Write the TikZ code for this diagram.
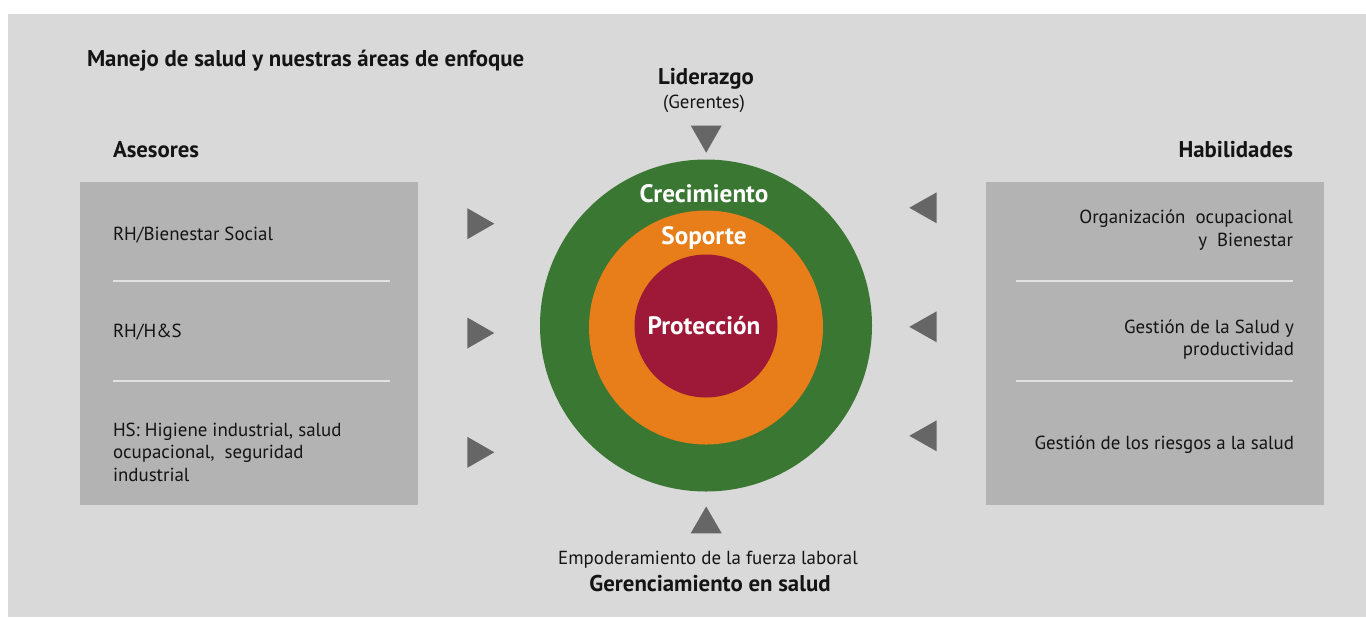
\documentclass[tikz,border=0pt]{standalone}
\usepackage{fontspec}
\setmainfont{PT Sans}
\definecolor{bgc}{RGB}{217,217,217}
\definecolor{boxc}{RGB}{179,179,179}
\definecolor{sepc}{RGB}{226,226,226}
\definecolor{tric}{RGB}{102,102,102}
\definecolor{grn}{RGB}{58,119,51}
\definecolor{org}{RGB}{231,126,25}
\definecolor{rd}{RGB}{158,24,56}
\definecolor{txt}{RGB}{20,20,20}
\begin{document}
\begin{tikzpicture}[x=0.5pt,y=-0.5pt,
  every node/.style={inner sep=0pt, outer sep=0pt, text=txt},
  reg/.style={font=\fontsize{9.45}{11}\selectfont},
  hdr/.style={font=\fontsize{11.4}{13}\selectfont\bfseries},
  ring/.style={font=\fontsize{12.6}{14}\selectfont\bfseries, text=white},
  panel/.style={fill=boxc, draw=none, minimum width=169pt, minimum height=161.5pt},
  sepline/.style={draw=sepc, line width=1.3pt},
  tri/.style={fill=tric}
]
\useasboundingbox (0,0) rectangle (1366,617);
\fill[bgc] (8,14) rectangle (1366,617);

% panels
\node[panel] (lbox) at (249,343.5) {};
\node[panel] (rbox) at (1155,343.5) {};
\draw[sepline] (113,281) -- (390,281);
\draw[sepline] (113,381) -- (390,381);
\draw[sepline] (1016,281) -- (1293,281);
\draw[sepline] (1016,381) -- (1293,381);

% circles
\node[circle, fill=grn, minimum size=166pt] (outer) at (706,325.5) {};
\node[circle, fill=org, minimum size=117pt] (mid) at (706,327.5) {};
\node[circle, fill=rd, minimum size=71.5pt] (inner) at (706,326) {};
\node[ring, anchor=base] (crec) at (704,202) {Crecimiento};
\node[ring, anchor=base] (sop) at (704,244) {Soporte};
\node[ring, anchor=base] (prot) at (704,334) {Protección};

% titles
\node[hdr, anchor=base west] (title) at (87,66.5) {Manejo de salud y nuestras áreas de enfoque};
\node[hdr, anchor=base west] (ases) at (113,157) {Asesores};
\node[hdr, anchor=base east] (habi) at (1293,157) {Habilidades};
\node[hdr, anchor=base] (lider) at (706,84) {Liderazgo};
\node[reg, anchor=base] (ger) at (704,108) {(Gerentes)};
\node[reg, anchor=base] (empo) at (708,564) {Empoderamiento de la fuerza laboral};
\node[hdr, anchor=base] (gsal) at (710,591.5) {Gerenciamiento en salud};

% left texts
\node[reg, anchor=base west] (l1) at (113,240.7) {RH/Bienestar Social};
\node[reg, anchor=base west] (l2) at (113,337) {RH/H\&S};
\node[reg, anchor=base west] (l3a) at (113,436) {HS: Higiene industrial, salud};
\node[reg, anchor=base west] (l3b) at (113,458.5) {ocupacional,\ \ seguridad};
\node[reg, anchor=base west] (l3c) at (113,481.5) {industrial};

% right texts
\node[reg, anchor=base east] (r1a) at (1293,223) {Organización\ \ ocupacional};
\node[reg, anchor=base east] (r1b) at (1293,246) {y\ \ Bienestar};
\node[reg, anchor=base east] (r2a) at (1294,333) {Gestión de la Salud y};
\node[reg, anchor=base east] (r2b) at (1294,355.5) {productividad};
\node[reg, anchor=base east] (r3) at (1294,449) {Gestión de los riesgos a la salud};

% triangles
\fill[tri] (467.3,208.2) -- (494.3,223.7) -- (467.3,239.2) -- cycle;
\fill[tri] (467.3,317.5) -- (494.3,333) -- (467.3,348.5) -- cycle;
\fill[tri] (467.3,436.8) -- (494.3,452.3) -- (467.3,467.8) -- cycle;
\fill[tri] (936.7,192.3) -- (909.3,207.8) -- (936.7,223.3) -- cycle;
\fill[tri] (936.7,311.3) -- (909.3,326.8) -- (936.7,342.3) -- cycle;
\fill[tri] (936.7,420.3) -- (909.3,435.8) -- (936.7,451.3) -- cycle;
\fill[tri] (690.7,125.5) -- (721.7,125.5) -- (706.2,152.7) -- cycle;
\fill[tri] (690.7,533.3) -- (721.7,533.3) -- (706.2,506.5) -- cycle;
\end{tikzpicture}
\end{document}
